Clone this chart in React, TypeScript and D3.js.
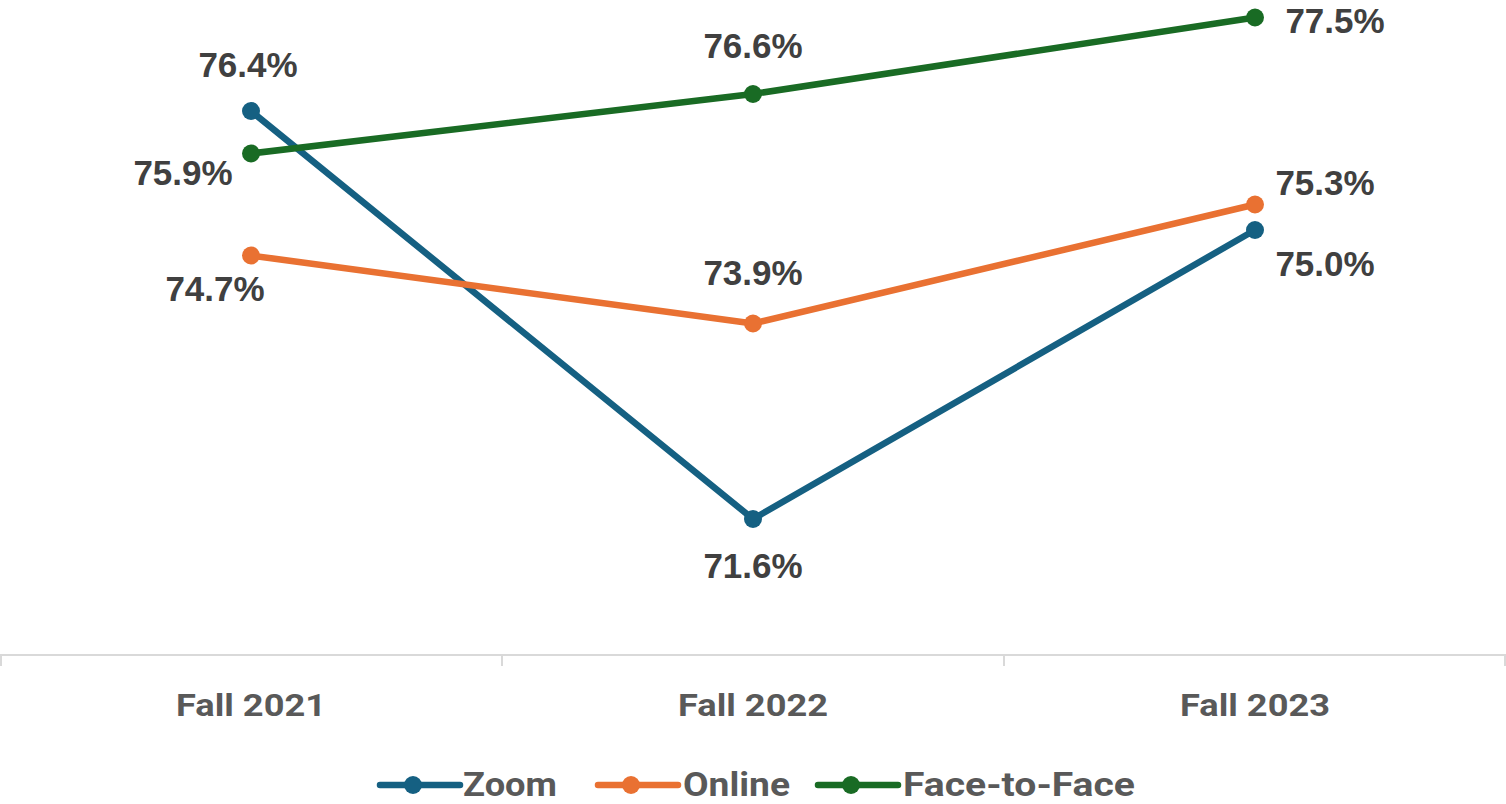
import React from "react";
import * as d3 from "d3";

const categories = ["Fall 2021", "Fall 2022", "Fall 2023"];
const seriesNames = ["Zoom", "Online", "Face-to-Face"];
const zoomValues = [76.4, 71.6, 75.0];
const onlineValues = [74.7, 73.9, 75.3];
const faceValues = [75.9, 76.6, 77.5];
const seriesColors = ["#156082", "#E97132", "#196B24"];

// label placement offsets (dx, dy) relative to each point
const labelOffsets: [number, number][][] = [
  [[-3, -47], [0, 46], [70, 33]],
  [[-36, 33], [0, -51], [70, -22]],
  [[-68, 19], [0, -49], [80, 3]],
];

const W = 1506;
const H = 804;

export default function App() {
  const x = d3.scaleBand<string>().domain(categories).range([0, W]);
  const y = d3.scaleLinear().domain([70, 76.4]).range([655, 111]);
  const allValues = [zoomValues, onlineValues, faceValues];
  const line = d3
    .line<number>()
    .x((_, i) => (x(categories[i]) as number) + x.bandwidth() / 2)
    .y((d) => y(d));
  const fmt = (v: number) => v.toFixed(1) + "%";
  const ticks = [0, 1, 2, 3].map((i) => i * x.bandwidth());
  const legendItems = [
    { lineX: 380, textX: 463, w: 94 },
    { lineX: 598, textX: 683, w: 107 },
    { lineX: 818, textX: 903, w: 232 },
  ];
  return (
    <svg
      width={W}
      height={H}
      style={{ position: "absolute", left: 0, top: 0, background: "#fff" }}
    >
      <line x1={0} x2={W} y1={655} y2={655} stroke="#d9d9d9" strokeWidth={2} />
      {ticks.map((t, i) => (
        <line
          key={i}
          x1={Math.min(Math.max(t, 1), W - 1)}
          x2={Math.min(Math.max(t, 1), W - 1)}
          y1={655}
          y2={666}
          stroke="#d9d9d9"
          strokeWidth={2}
        />
      ))}
      {categories.map((c) => (
        <text
          key={c}
          x={(x(c) as number) + x.bandwidth() / 2}
          y={716}
          textAnchor="middle"
          fontFamily="Roboto, sans-serif"
          fontWeight="bold"
          fontSize={32}
          fill="#595959"
          textLength={150}
          lengthAdjust="spacingAndGlyphs"
        >
          {c}
        </text>
      ))}
      {allValues.map((vals, s) => (
        <g key={s}>
          <path
            d={line(vals) || ""}
            fill="none"
            stroke={seriesColors[s]}
            strokeWidth={6.5}
            strokeLinejoin="round"
          />
          {vals.map((v, i) => (
            <circle
              key={i}
              cx={(x(categories[i]) as number) + x.bandwidth() / 2}
              cy={y(v)}
              r={9}
              fill={seriesColors[s]}
            />
          ))}
        </g>
      ))}
      {allValues.map((vals, s) =>
        vals.map((v, i) => (
          <text
            key={s + "-" + i}
            x={(x(categories[i]) as number) + x.bandwidth() / 2 + labelOffsets[s][i][0]}
            y={y(v) + labelOffsets[s][i][1] + 12.5}
            textAnchor="middle"
            fontFamily="'Liberation Sans', Arial, sans-serif"
            fontWeight="bold"
            fontSize={35}
            fill="#404040"
          >
            {fmt(v)}
          </text>
        ))
      )}
      {seriesNames.map((n, s) => (
        <g key={n}>
          <line
            x1={legendItems[s].lineX}
            x2={legendItems[s].lineX + 80}
            y1={785}
            y2={785}
            stroke={seriesColors[s]}
            strokeWidth={6.5}
            strokeLinecap="round"
          />
          <circle cx={legendItems[s].lineX + 33} cy={785} r={9} fill={seriesColors[s]} />
          <text
            x={legendItems[s].textX}
            y={796}
            fontFamily="Roboto, sans-serif"
            fontWeight="bold"
            fontSize={33}
            fill="#595959"
            textLength={legendItems[s].w}
            lengthAdjust="spacingAndGlyphs"
          >
            {n}
          </text>
        </g>
      ))}
    </svg>
  );
}
